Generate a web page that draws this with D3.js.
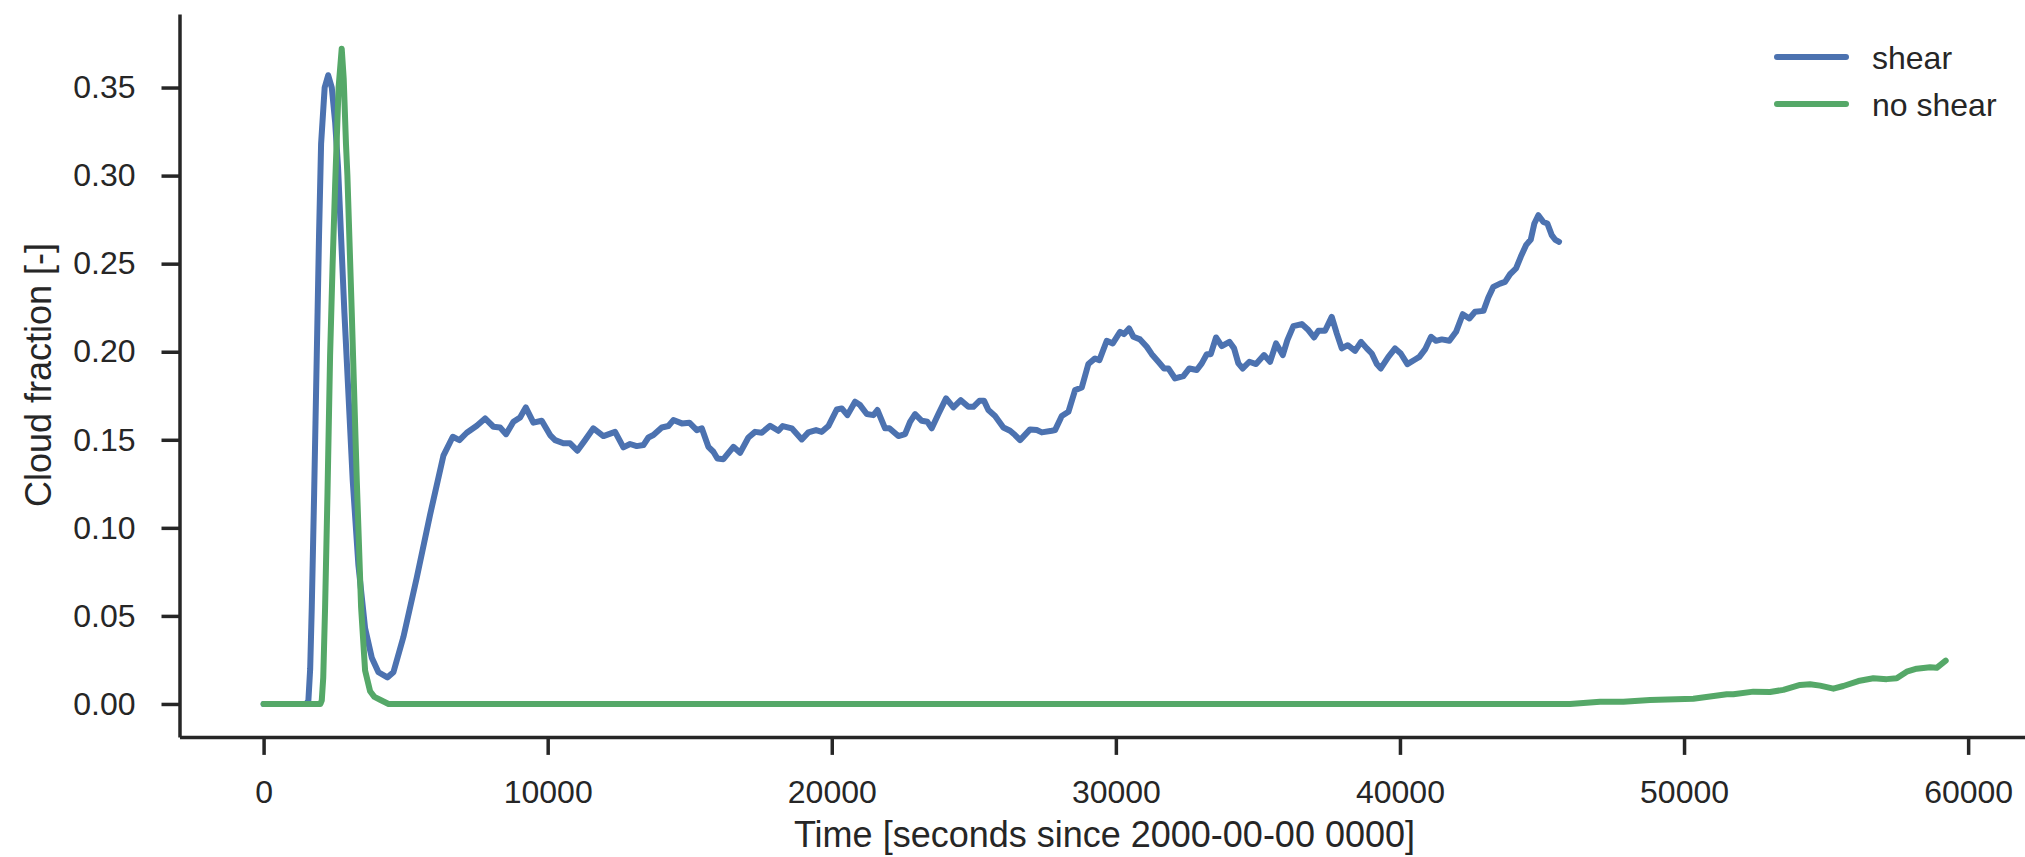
<!DOCTYPE html>
<html lang="en">
<head>
    <meta charset="UTF-8">
    <title>Cloud fraction</title>
    <script src="https://d3js.org/d3.v7.min.js"></script>
    <style>
        body { margin: 0; background: #fff; }
        svg text {
            fill: #262626;
            font-family: 'Liberation Sans', Arial, sans-serif;
        }
        .tick text { font-size: 32px; }
        .tick line, .domain { stroke: #262626; stroke-width: 3.5px; }
        text.label { font-size: 36px; text-anchor: middle; }
        text.legend { font-size: 32px; }
    </style>
</head>
<body>
<svg width="2025" height="857"></svg>
<script>
    // shear run: time [s] and cloud fraction [-]
    const shearTime = [0, 1500, 1577, 1640, 1696, 1780, 1872, 1950, 2024, 2150, 2274, 2400, 2520, 2620, 2845,
        3139, 3337, 3573, 3808, 4043, 4358, 4570, 4921, 5392, 5861, 6330, 6659, 6893, 7151, 7504,
        7797, 8090, 8325, 8536, 8794, 9029, 9229, 9497, 9791, 10085, 10261, 10553, 10789, 11045, 11316,
        11609, 11961, 12373, 12665, 12900, 13136, 13370, 13545, 13721, 14017, 14249, 14425, 14721, 14988,
        15249, 15425, 15656, 15832, 15974, 16185, 16537, 16772, 17065, 17300, 17536, 17828, 18121, 18274,
        18591, 18944, 19176, 19447, 19648, 19881, 20175, 20352, 20550, 20820, 20996, 21232, 21465, 21606,
        21876, 22027, 22344, 22580, 22756, 22932, 23168, 23366, 23519, 23753, 24023, 24281, 24541, 24808,
        24984, 25196, 25361, 25512, 25748, 26040, 26276, 26452, 26628, 26980, 27216, 27392, 27744, 27860,
        28096, 28330, 28564, 28800, 29032, 29268, 29420, 29680, 29891, 30148, 30289, 30465, 30616, 30852,
        31088, 31264, 31496, 31697, 31848, 32084, 32376, 32587, 32848, 33024, 33200, 33341, 33527, 33728,
        33996, 34161, 34312, 34466, 34699, 34935, 35216, 35428, 35639, 35875, 36037, 36248, 36544, 36776,
        36977, 37128, 37364, 37599, 37775, 37952, 38162, 38419, 38630, 38832, 39008, 39184, 39325, 39592,
        39828, 40028, 40262, 40532, 40684, 40884, 41095, 41271, 41472, 41740, 41975, 42211, 42443, 42644,
        42939, 43111, 43288, 43523, 43699, 43875, 44086, 44252, 44438, 44605, 44731, 44872, 45048, 45189,
        45343, 45459, 45600];
    const shearFrac = [0, 0, 0.002, 0.02, 0.055, 0.12, 0.198, 0.265, 0.318, 0.35, 0.357, 0.35, 0.33, 0.305, 0.222,
        0.1266, 0.0789, 0.043, 0.0263, 0.018, 0.0151, 0.018, 0.038, 0.0717, 0.1075, 0.141, 0.1517, 0.1498, 0.154, 0.158,
        0.1621, 0.1574, 0.157, 0.1532, 0.1602, 0.1627, 0.1684, 0.1597, 0.1608, 0.1527, 0.1498, 0.148, 0.148, 0.1438, 0.1498,
        0.1565, 0.1521, 0.1545, 0.1457, 0.1476, 0.1464, 0.147, 0.1513, 0.1527, 0.157, 0.1578, 0.1612, 0.1593, 0.1597,
        0.1555, 0.1565, 0.146, 0.1432, 0.1394, 0.139, 0.146, 0.1426, 0.1513, 0.1545, 0.154, 0.158, 0.1551, 0.1578,
        0.1565, 0.1502, 0.1542, 0.1555, 0.1545, 0.1578, 0.1672, 0.1678, 0.164, 0.1716, 0.1697, 0.1646, 0.164, 0.1669,
        0.1565, 0.1565, 0.1521, 0.1532, 0.1602, 0.1646, 0.1608, 0.1602, 0.1565, 0.1646, 0.1735, 0.1684, 0.1725, 0.1687,
        0.1687, 0.1721, 0.1721, 0.1669, 0.1635, 0.157, 0.1551, 0.1527, 0.1498, 0.1559, 0.1555, 0.1542, 0.1551, 0.1555,
        0.1635, 0.1659, 0.1782, 0.1797, 0.193, 0.1962, 0.1952, 0.2062, 0.2047, 0.2113, 0.21, 0.2132, 0.2085, 0.207,
        0.2028, 0.1986, 0.1943, 0.1905, 0.1905, 0.1848, 0.1862, 0.1905, 0.1896, 0.1934, 0.1986, 0.1986, 0.2081, 0.2032,
        0.2056, 0.2019, 0.1934, 0.1905, 0.1943, 0.193, 0.1981, 0.1943, 0.2047, 0.1981, 0.2066, 0.2145, 0.2157, 0.2123,
        0.2081, 0.2119, 0.2119, 0.2198, 0.2104, 0.2019, 0.2037, 0.2005, 0.2056, 0.2019, 0.199, 0.193, 0.1905, 0.1971,
        0.2019, 0.199, 0.193, 0.1956, 0.1971, 0.2013, 0.2085, 0.2062, 0.207, 0.2062, 0.2113, 0.2213, 0.2189, 0.2227,
        0.2232, 0.2308, 0.2368, 0.2387, 0.2397, 0.244, 0.2473, 0.2539, 0.2605, 0.2637, 0.2728, 0.2775, 0.2737, 0.2728,
        0.2662, 0.2637, 0.2624];

    // no shear run
    const noShearTime = [0, 2000, 2048, 2100, 2165, 2250, 2341, 2430, 2517, 2640, 2750, 2820, 2900, 2950, 3104,
        3280, 3432, 3573, 3749, 3900, 4100, 4400, 45284, 45988, 47043, 47864, 48803, 50328, 50915, 51503,
        51736, 52440, 53027, 53496, 54083, 54435, 54787, 55256, 55608, 56136, 56664, 57134, 57486, 57838,
        58190, 58659, 58894, 59210];
    const noShearFrac = [0, 0, 0.002, 0.015, 0.055, 0.12, 0.198, 0.25, 0.294, 0.35, 0.372, 0.355, 0.318, 0.30, 0.222,
        0.127, 0.055, 0.019, 0.0072, 0.004, 0.0024, 0, 0, 0, 0.0013, 0.0013, 0.0023, 0.003, 0.0042, 0.0055,
        0.0055, 0.007, 0.0068, 0.008, 0.0108, 0.0112, 0.0104, 0.0087, 0.0102, 0.013, 0.0146, 0.0141, 0.0146, 0.0183,
        0.02, 0.0208, 0.0205, 0.0246];

    const seriesNames = ["shear", "no shear"];
    const seriesColors = ["#4C72B0", "#55A868"];
    const xTicks = [0, 10000, 20000, 30000, 40000, 50000, 60000];
    const yTicks = [0, 0.05, 0.10, 0.15, 0.20, 0.25, 0.30, 0.35];

    const svg = d3.select("svg");
    const x = d3.scaleLinear().domain([-2960, 62160]).range([179.5, 2029.5]);
    const y = d3.scaleLinear().domain([-0.0187, 0.3917]).range([736.9, 14.1]);

    svg.append("g").attr("transform", "translate(0,736.9)")
        .call(d3.axisBottom(x).tickValues(xTicks).tickFormat(d3.format("d"))
            .tickSize(18).tickSizeOuter(0).tickPadding(25));
    svg.append("g").attr("transform", "translate(179.5,0)")
        .call(d3.axisLeft(y).tickValues(yTicks).tickFormat(d3.format(".2f"))
            .tickSize(18).tickSizeOuter(0).tickPadding(26));

    const line = d3.line().x(d => x(d[0])).y(d => y(d[1]));
    const series = [
        d3.zip(shearTime, shearFrac),
        d3.zip(noShearTime, noShearFrac)
    ];
    series.forEach((s, i) => {
        svg.append("path").datum(s)
            .attr("d", line)
            .attr("fill", "none")
            .attr("stroke", seriesColors[i])
            .attr("stroke-width", 6)
            .attr("stroke-linejoin", "round")
            .attr("stroke-linecap", "round");
    });

    svg.append("text").attr("class", "label")
        .attr("x", 1104.5).attr("y", 847)
        .text("Time [seconds since 2000-00-00 0000]");
    svg.append("text").attr("class", "label")
        .attr("transform", "translate(51,375) rotate(-90)")
        .text("Cloud fraction [-]");

    const legend = svg.append("g").attr("transform", "translate(1777,57)");
    seriesNames.forEach((name, i) => {
        const g = legend.append("g").attr("transform", `translate(0,${i * 47})`);
        g.append("line").attr("x1", 0).attr("x2", 69)
            .attr("stroke", seriesColors[i]).attr("stroke-width", 6)
            .attr("stroke-linecap", "round");
        g.append("text").attr("class", "legend")
            .attr("x", 95).attr("y", 11.5)
            .text(name);
    });
</script>
</body>
</html>
